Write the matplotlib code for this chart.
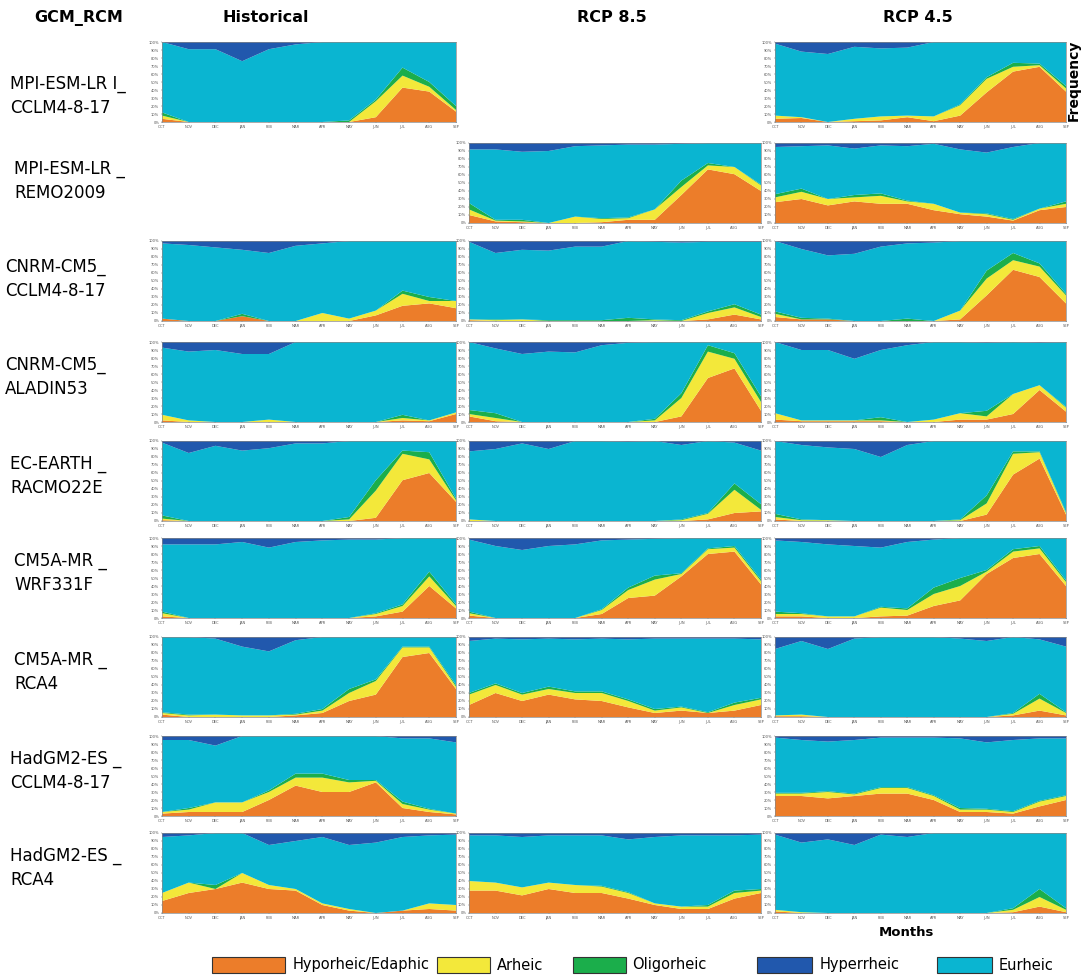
import numpy as np
import matplotlib
matplotlib.use("Agg")
import matplotlib.pyplot as plt
from matplotlib.patches import Rectangle

MONTHS = ["OCT", "NOV", "DEC", "JAN", "FEB", "MAR", "APR", "MAY", "JUN", "JUL", "AUG", "SEP"]
YTICKS = [0, 10, 20, 30, 40, 50, 60, 70, 80, 90, 100]

COLUMNS = ["Historical", "RCP 8.5", "RCP 4.5"]
MODELS = [
    "MPI-ESM-LR I_\nCCLM4-8-17",
    "MPI-ESM-LR _\nREMO2009",
    "CNRM-CM5_\nCCLM4-8-17",
    "CNRM-CM5_\nALADIN53",
    "EC-EARTH _\nRACMO22E",
    "CM5A-MR _\nWRF331F",
    "CM5A-MR _\nRCA4",
    "HadGM2-ES _\nCCLM4-8-17",
    "HadGM2-ES _\nRCA4",
]
CLASSES = ["Hyporheic/Edaphic", "Arheic", "Oligorheic", "Hyperrheic", "Eurheic"]

# Monthly frequency (%) of each flow class; eurheic is the remainder to 100 %.
# Row 1: MPI-ESM-LR / CCLM4-8-17
mpi_cclm_hist = dict(hypo=[4, 0, 0, 0, 0, 0, 0, 0, 6, 43, 38, 13],
                     arheic=[4, 0, 0, 0, 0, 0, 0, 0, 20, 15, 6, 2],
                     oligo=[4, 0, 0, 0, 0, 0, 0, 2, 2, 10, 6, 5],
                     hyper=[0, 9, 9, 24, 9, 3, 0, 0, 0, 0, 0, 0])
mpi_cclm_45 = dict(hypo=[4, 5, 0, 1, 2, 6, 1, 8, 37, 63, 69, 38],
                   arheic=[4, 1, 0, 3, 5, 2, 6, 13, 17, 6, 2, 4],
                   oligo=[0, 0, 0, 0, 0, 0, 0, 1, 2, 5, 2, 3],
                   hyper=[2, 12, 15, 6, 8, 7, 0, 0, 0, 0, 0, 0])
# Row 2: MPI-ESM-LR / REMO2009
mpi_remo_85 = dict(hypo=[10, 2, 1, 0, 0, 1, 4, 4, 35, 67, 61, 40],
                   arheic=[7, 1, 1, 0, 8, 4, 2, 13, 10, 5, 9, 7],
                   oligo=[8, 1, 2, 0, 0, 1, 1, 0, 8, 3, 0, 1],
                   hyper=[8, 8, 11, 10, 4, 3, 2, 2, 1, 0, 0, 0])
mpi_remo_45 = dict(hypo=[26, 30, 22, 27, 24, 24, 16, 11, 8, 3, 16, 20],
                   arheic=[6, 9, 8, 5, 10, 3, 8, 2, 3, 1, 2, 4],
                   oligo=[4, 4, 0, 3, 3, 1, 0, 0, 1, 1, 0, 3],
                   hyper=[5, 4, 3, 7, 3, 4, 1, 8, 12, 5, 0, 0])
# Row 3: CNRM-CM5 / CCLM4-8-17
cnrm_cclm_hist = dict(hypo=[3, 0, 0, 6, 0, 0, 0, 0, 7, 19, 22, 16],
                      arheic=[0, 0, 0, 0, 0, 0, 10, 3, 6, 15, 3, 9],
                      oligo=[0, 0, 0, 3, 0, 0, 0, 0, 0, 4, 5, 0],
                      hyper=[3, 5, 8, 11, 15, 6, 3, 0, 0, 0, 0, 0])
cnrm_cclm_85 = dict(hypo=[1, 0, 0, 0, 0, 0, 0, 0, 0, 2, 8, 2],
                    arheic=[1, 1, 2, 0, 0, 0, 0, 1, 0, 8, 9, 3],
                    oligo=[0, 1, 0, 1, 1, 1, 4, 1, 1, 2, 4, 3],
                    hyper=[1, 15, 11, 12, 7, 7, 0, 1, 2, 1, 1, 1])
cnrm_cclm_45 = dict(hypo=[5, 2, 2, 0, 0, 0, 0, 2, 32, 64, 55, 22],
                    arheic=[4, 0, 0, 0, 0, 0, 0, 11, 21, 12, 13, 10],
                    oligo=[3, 2, 1, 0, 0, 3, 0, 0, 10, 9, 4, 2],
                    hyper=[0, 10, 18, 16, 7, 3, 2, 0, 0, 0, 0, 0])
# Row 4: CNRM-CM5 / ALADIN53
cnrm_aladin_hist = dict(hypo=[2, 0, 0, 0, 0, 0, 0, 0, 0, 2, 1, 10],
                        arheic=[7, 2, 0, 0, 3, 0, 0, 0, 0, 3, 1, 2],
                        oligo=[0, 0, 0, 0, 0, 0, 0, 0, 0, 4, 0, 0],
                        hyper=[7, 12, 10, 15, 15, 0, 0, 0, 0, 0, 0, 0])
cnrm_aladin_85 = dict(hypo=[7, 1, 0, 0, 0, 0, 0, 0, 7, 55, 67, 14],
                      arheic=[3, 4, 0, 0, 0, 0, 0, 2, 23, 33, 12, 11],
                      oligo=[5, 6, 0, 0, 0, 0, 0, 2, 6, 8, 7, 7],
                      hyper=[0, 8, 15, 12, 13, 4, 1, 0, 0, 0, 0, 0])
cnrm_aladin_45 = dict(hypo=[3, 1, 1, 1, 1, 0, 0, 3, 3, 10, 40, 13],
                      arheic=[8, 1, 1, 1, 1, 0, 3, 8, 4, 25, 6, 5],
                      oligo=[0, 0, 0, 0, 4, 0, 0, 0, 7, 0, 0, 1],
                      hyper=[0, 10, 10, 21, 10, 4, 0, 0, 1, 0, 1, 0])
# Row 5: EC-EARTH / RACMO22E
ec_racmo_hist = dict(hypo=[1, 0, 0, 0, 0, 0, 0, 0, 4, 51, 60, 24],
                     arheic=[2, 0, 0, 0, 0, 0, 0, 2, 34, 33, 17, 2],
                     oligo=[4, 0, 0, 0, 0, 0, 0, 3, 13, 4, 9, 2],
                     hyper=[2, 15, 6, 12, 9, 3, 3, 0, 0, 0, 0, 0])
ec_racmo_85 = dict(hypo=[0, 0, 0, 0, 0, 0, 0, 0, 0, 2, 10, 12],
                   arheic=[2, 0, 0, 0, 0, 0, 0, 0, 1, 7, 29, 2],
                   oligo=[0, 0, 0, 0, 0, 0, 0, 0, 1, 1, 8, 7],
                   hyper=[13, 10, 3, 10, 0, 0, 1, 0, 5, 0, 2, 12])
ec_racmo_45 = dict(hypo=[2, 0, 0, 0, 0, 0, 0, 0, 8, 58, 78, 8],
                   arheic=[3, 1, 1, 0, 0, 0, 0, 1, 14, 26, 8, 2],
                   oligo=[4, 1, 0, 0, 0, 0, 0, 1, 10, 3, 1, 1],
                   hyper=[0, 5, 8, 10, 20, 5, 0, 0, 0, 0, 0, 0])
# Row 6: CM5A-MR / WRF331F
cm5_wrf_hist = dict(hypo=[2, 0, 0, 0, 0, 0, 0, 0, 2, 8, 40, 12],
                    arheic=[4, 0, 0, 0, 0, 0, 0, 0, 3, 7, 12, 3],
                    oligo=[2, 0, 0, 0, 0, 0, 0, 0, 1, 2, 6, 2],
                    hyper=[8, 8, 8, 5, 12, 5, 3, 2, 2, 0, 0, 0])
cm5_wrf_85 = dict(hypo=[3, 0, 0, 0, 0, 5, 25, 28, 52, 80, 83, 42],
                  arheic=[3, 0, 0, 0, 0, 5, 10, 20, 3, 6, 5, 4],
                  oligo=[2, 0, 0, 0, 0, 1, 3, 5, 1, 1, 2, 2],
                  hyper=[2, 10, 15, 10, 8, 3, 2, 1, 0, 0, 0, 0])
cm5_wrf_45 = dict(hypo=[2, 2, 0, 0, 2, 3, 15, 22, 55, 75, 80, 40],
                  arheic=[3, 3, 2, 2, 11, 7, 15, 18, 3, 8, 7, 5],
                  oligo=[3, 1, 0, 0, 1, 2, 8, 10, 2, 3, 3, 2],
                  hyper=[3, 5, 8, 10, 12, 5, 2, 0, 0, 0, 0, 0])
# Row 7: CM5A-MR / RCA4
cm5_rca_hist = dict(hypo=[3, 0, 0, 0, 0, 2, 5, 20, 28, 75, 80, 35],
                    arheic=[2, 2, 3, 2, 2, 1, 3, 10, 17, 12, 7, 3],
                    oligo=[1, 1, 0, 0, 0, 1, 2, 5, 2, 1, 1, 2],
                    hyper=[0, 0, 2, 12, 18, 4, 0, 0, 0, 0, 0, 0])
cm5_rca_85 = dict(hypo=[15, 30, 20, 28, 22, 20, 12, 5, 8, 5, 8, 15],
                  arheic=[13, 10, 8, 7, 8, 10, 8, 3, 4, 0, 7, 7],
                  oligo=[2, 2, 2, 3, 2, 2, 2, 2, 1, 1, 3, 2],
                  hyper=[5, 2, 3, 2, 3, 2, 3, 2, 2, 2, 2, 3])
cm5_rca_45 = dict(hypo=[1, 1, 0, 0, 0, 0, 0, 0, 0, 2, 8, 2],
                  arheic=[1, 2, 0, 0, 0, 0, 0, 0, 0, 2, 15, 3],
                  oligo=[0, 0, 0, 0, 0, 0, 0, 0, 0, 1, 6, 1],
                  hyper=[15, 5, 15, 2, 0, 0, 0, 2, 5, 0, 3, 12])
# Row 8: HadGM2-ES / CCLM4-8-17
had_cclm_hist = dict(hypo=[3, 5, 5, 5, 20, 38, 30, 30, 42, 10, 5, 2],
                     arheic=[2, 3, 12, 12, 10, 10, 18, 12, 2, 5, 3, 1],
                     oligo=[0, 2, 0, 0, 2, 5, 5, 3, 1, 3, 1, 0],
                     hyper=[5, 5, 12, 0, 0, 0, 0, 0, 0, 3, 3, 8])
had_cclm_45 = dict(hypo=[25, 25, 22, 25, 28, 28, 20, 5, 5, 3, 12, 20],
                   arheic=[3, 3, 8, 2, 7, 7, 5, 3, 3, 2, 6, 5],
                   oligo=[1, 1, 1, 1, 1, 1, 1, 2, 1, 1, 1, 1],
                   hyper=[2, 5, 7, 5, 2, 2, 2, 3, 8, 5, 3, 3])
# Row 9: HadGM2-ES / RCA4
had_rca_hist = dict(hypo=[15, 25, 30, 38, 30, 28, 10, 3, 0, 3, 5, 3],
                    arheic=[10, 13, 0, 12, 5, 2, 2, 2, 0, 0, 7, 7],
                    oligo=[0, 0, 5, 0, 0, 0, 0, 0, 0, 0, 0, 0],
                    hyper=[5, 3, 0, 0, 15, 10, 5, 15, 12, 5, 3, 2])
had_rca_85 = dict(hypo=[28, 28, 22, 30, 25, 25, 18, 10, 5, 5, 18, 25],
                  arheic=[12, 10, 10, 8, 10, 8, 7, 2, 3, 3, 7, 3],
                  oligo=[0, 0, 0, 0, 0, 1, 1, 0, 0, 2, 3, 2],
                  hyper=[3, 3, 5, 3, 3, 3, 8, 5, 3, 3, 3, 2])
had_rca_45 = dict(hypo=[2, 0, 0, 0, 0, 0, 0, 0, 0, 1, 8, 1],
                  arheic=[2, 1, 0, 0, 0, 0, 0, 0, 0, 3, 12, 3],
                  oligo=[0, 0, 0, 0, 0, 0, 0, 0, 0, 2, 10, 2],
                  hyper=[2, 12, 8, 15, 2, 5, 0, 0, 0, 0, 0, 0])

GRID = [
    [mpi_cclm_hist, None, mpi_cclm_45],
    [None, mpi_remo_85, mpi_remo_45],
    [cnrm_cclm_hist, cnrm_cclm_85, cnrm_cclm_45],
    [cnrm_aladin_hist, cnrm_aladin_85, cnrm_aladin_45],
    [ec_racmo_hist, ec_racmo_85, ec_racmo_45],
    [cm5_wrf_hist, cm5_wrf_85, cm5_wrf_45],
    [cm5_rca_hist, cm5_rca_85, cm5_rca_45],
    [had_cclm_hist, None, had_cclm_45],
    [had_rca_hist, had_rca_85, had_rca_45],
]

COLORS = {
    "hypo": "#EC7D2A",
    "arheic": "#F3E83A",
    "oligo": "#1BAE4B",
    "eur": "#0AB5D1",
    "hyper": "#2158AD",
}
LEGEND_COLORS = [COLORS["hypo"], COLORS["arheic"], COLORS["oligo"], COLORS["hyper"], COLORS["eur"]]

W, H = 1082, 976
fig = plt.figure(figsize=(W / 100, H / 100), dpi=100)

col_left = [162, 469, 775]
col_width = [294, 292, 291]
row_top = [42, 143, 241, 342, 441, 538, 637, 736, 833]
panel_h = 80


def px_rect(x, y, w, h):
    return [x / W, 1 - (y + h) / H, w / W, h / H]


x = np.arange(len(MONTHS))
for r, row in enumerate(GRID):
    for c, d in enumerate(row):
        if d is None:
            continue
        ax = fig.add_axes(px_rect(col_left[c], row_top[r], col_width[c], panel_h))
        hypo = np.array(d["hypo"], float)
        arh = np.array(d["arheic"], float)
        oli = np.array(d["oligo"], float)
        hyp = np.array(d["hyper"], float)
        eur = np.clip(100 - hypo - arh - oli - hyp, 0, None)
        ax.stackplot(x, hypo, arh, oli, eur, hyp,
                     colors=[COLORS["hypo"], COLORS["arheic"], COLORS["oligo"],
                             COLORS["eur"], COLORS["hyper"]],
                     linewidth=0)
        ax.set_xlim(0, len(MONTHS) - 1)
        ax.set_ylim(0, 100)
        ax.set_xticks(x)
        ax.set_xticklabels(MONTHS)
        ax.set_yticks(YTICKS)
        ax.set_yticklabels([f"{v}%" for v in YTICKS])
        ax.tick_params(labelsize=2.6, length=1, width=0.3, pad=1, colors="#555555")
        for s in ax.spines.values():
            s.set_linewidth(0.5)
            s.set_color("#888888")

# Headers
hdr = dict(fontsize=11.5, fontweight="bold", ha="center", va="center")
fig.text(79 / W, 1 - 18 / H, "GCM_RCM", **hdr)
fig.text(266 / W, 1 - 18 / H, COLUMNS[0], **hdr)
fig.text(612 / W, 1 - 18 / H, COLUMNS[1], **hdr)
fig.text(918 / W, 1 - 18 / H, COLUMNS[2], **hdr)

# Row labels
label_y = [96, 181, 279, 377, 476, 573, 672, 771, 868]
label_x = [10, 14, 5, 5, 10, 14, 14, 10, 10]
for name, yy, xx in zip(MODELS, label_y, label_x):
    fig.text(xx / W, 1 - yy / H, name, fontsize=12, ha="left", va="center",
             linespacing=1.4)

fig.text(1074 / W, 1 - 80 / H, "Frequency", fontsize=10, fontweight="bold",
         rotation=90, ha="center", va="center")
fig.text(906 / W, 1 - 933 / H, "Months", fontsize=9.5, fontweight="bold",
         ha="center", va="center")

# Legend along the bottom
legend_boxes = [(212, 285), (437, 490), (573, 626), (757, 812), (937, 992)]
legend_text_x = [293, 497, 632, 820, 999]
ly = 965
for (x0, x1), tx, col, lab in zip(legend_boxes, legend_text_x, LEGEND_COLORS, CLASSES):
    fig.patches.append(Rectangle((x0 / W, 1 - (ly + 8) / H), (x1 - x0) / W, 16 / H,
                                 transform=fig.transFigure, facecolor=col,
                                 edgecolor="#333333", linewidth=0.8))
    fig.text(tx / W, 1 - ly / H, lab, fontsize=10.5, ha="left", va="center")

fig.savefig("out.png", dpi=100)
